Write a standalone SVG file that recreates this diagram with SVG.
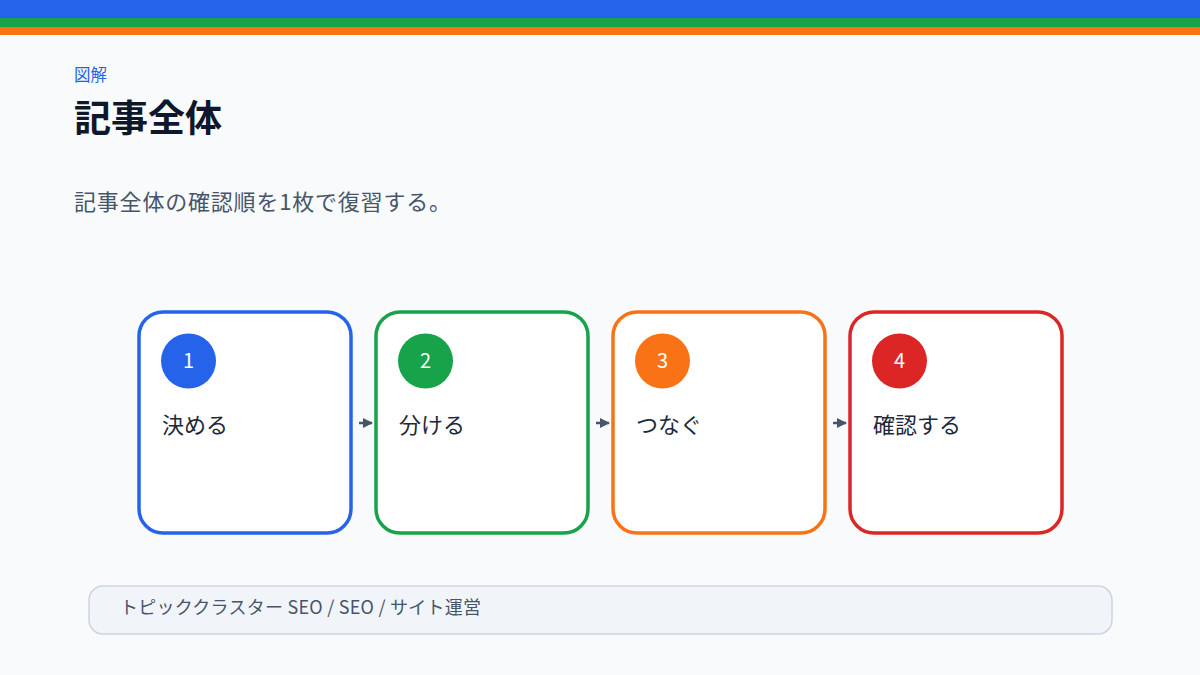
<svg xmlns="http://www.w3.org/2000/svg" width="1200" height="675" viewBox="0 0 1200 675">
<defs>
<style>
text{font-family:"Noto Sans CJK JP","Noto Sans",sans-serif}
.card{fill:#ffffff;stroke-width:3.5}
.num{fill:#ffffff;font-size:20px;text-anchor:middle}
.lbl{fill:#1e293b;font-size:22px}
.conn{stroke:#475569;stroke-width:2.5;fill:none}
</style>
<marker id="ah" viewBox="0 0 10 10" refX="9" refY="5" markerWidth="4" markerHeight="4" orient="auto" markerUnits="strokeWidth">
<path d="M0,0 L10,5 L0,10 z" fill="#475569"/>
</marker>
</defs>
<rect width="1200" height="675" fill="#f8fafc"/>
<rect x="0" y="0" width="1200" height="18" fill="#2563eb"/>
<rect x="0" y="18" width="1200" height="9" fill="#16a34a"/>
<rect x="0" y="27" width="1200" height="8" fill="#f97316"/>
<text x="74" y="81" font-size="16.5" fill="#2563eb">図解</text>
<text x="74" y="132" font-size="37" font-weight="bold" fill="#0f172a">記事全体</text>
<text x="74" y="210" font-size="22" letter-spacing="0.8" fill="#475569">記事全体の確認順を1枚で復習する。</text>
<g id="connectors">
<line class="conn" x1="359" y1="423" x2="372" y2="423" marker-end="url(#ah)"/>
<line class="conn" x1="596" y1="423" x2="609" y2="423" marker-end="url(#ah)"/>
<line class="conn" x1="833" y1="423" x2="846" y2="423" marker-end="url(#ah)"/>
</g>
<g id="node1">
<rect class="card" x="139" y="312" width="212" height="221" rx="24" stroke="#2563eb"/>
<circle cx="188.5" cy="361" r="27.5" fill="#2563eb"/>
<text class="num" x="188.5" y="368">1</text>
<text class="lbl" x="162" y="433">決める</text>
</g>
<g id="node2">
<rect class="card" x="376" y="312" width="212" height="221" rx="24" stroke="#16a34a"/>
<circle cx="425.5" cy="361" r="27.5" fill="#16a34a"/>
<text class="num" x="425.5" y="368">2</text>
<text class="lbl" x="399" y="433">分ける</text>
</g>
<g id="node3">
<rect class="card" x="613" y="312" width="212" height="221" rx="24" stroke="#f97316"/>
<circle cx="662.5" cy="361" r="27.5" fill="#f97316"/>
<text class="num" x="662.5" y="368">3</text>
<text class="lbl" x="636" y="433">つなぐ</text>
</g>
<g id="node4">
<rect class="card" x="850" y="312" width="212" height="221" rx="24" stroke="#dc2626"/>
<circle cx="899.5" cy="361" r="27.5" fill="#dc2626"/>
<text class="num" x="899.5" y="368">4</text>
<text class="lbl" x="873" y="433">確認する</text>
</g>
<g id="footer">
<rect x="89" y="586" width="1023" height="48" rx="14" fill="#f1f5f9" stroke="#cbd5e1" stroke-width="1.5"/>
<text x="120" y="614" font-size="18" letter-spacing="0.25" fill="#475569">トピッククラスター SEO / SEO / サイト運営</text>
</g>
</svg>
